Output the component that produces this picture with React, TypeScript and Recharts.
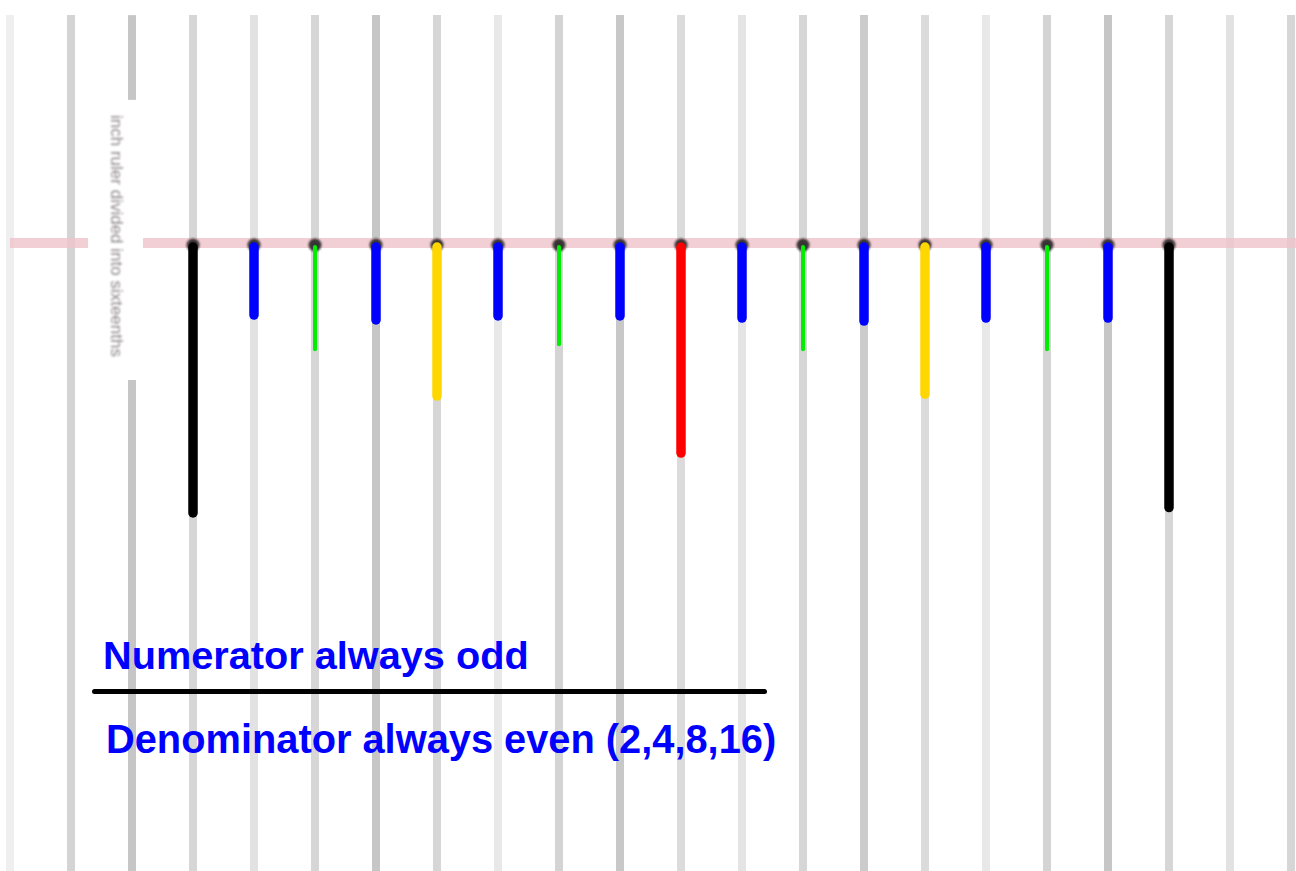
import React from "react";
import { ComposedChart, XAxis, YAxis, ReferenceLine, Scatter } from "recharts";

// ruler marks: position in sixteenths of an inch, denominator of the reduced fraction, mark depth
const tickPos = [0, 1, 2, 3, 4, 5, 6, 7, 8, 9, 10, 11, 12, 13, 14, 15, 16];
const tickDenom = [1, 16, 8, 16, 4, 16, 8, 16, 2, 16, 8, 16, 4, 16, 8, 16, 1];
const tickDepth = [100, 26.7, 39.4, 28.5, 56.7, 27, 37.5, 27, 77.8, 27.8, 39.4, 28.9, 56, 27.8, 39.4, 27.8, 98];

// faint background guide lines
const gridPos = [-3, -2, -1, 0, 1, 2, 3, 4, 5, 6, 7, 8, 9, 10, 11, 12, 13, 14, 15, 16, 17, 18];
const gridShade = [
  "#efefef", "#d4d4d4", "#c6c6c6", "#d6d6d6", "#e2e2e2", "#d6d6d6", "#c6c6c6", "#d6d6d6",
  "#e8e8e8", "#d4d4d4", "#c8c8c8", "#dbdbdb", "#e4e4e4", "#d6d6d6", "#cbcbcb", "#dbdbdb",
  "#e8e8e8", "#d4d4d4", "#c6c6c6", "#d6d6d6", "#e2e2e2", "#d6d6d6",
];

const numeratorText = "Numerator always odd";
const denominatorText = "Denominator always even (2,4,8,16)";
const sideText = "inch ruler divided into sixteenths";

const denomColor: Record<number, string> = {
  1: "#000000",
  2: "#ff0000",
  4: "#ffd700",
  8: "#00ee00",
  16: "#0000ff",
};

const W = 1296;
const H = 871;
const X_DOMAIN: [number, number] = [-3.164, 18.082];
const Y_DOMAIN: [number, number] = [-90, 232.6];

const dotData = tickPos.map((p) => ({ pos: p, base: 0 }));

const Blob = (props: any) => {
  const { cx, cy } = props;
  if (cx == null || cy == null) return null;
  return <circle cx={cx} cy={cy + 2} r={6.5} fill="#1a1a1a" opacity={0.85} style={{ filter: "blur(1.3px)" }} />;
};

export default function App() {
  return (
    <div
      style={{
        position: "absolute",
        left: 0,
        top: 0,
        width: W,
        height: H,
        background: "#fff",
        overflow: "hidden",
        fontFamily: "'Liberation Sans', Arial, sans-serif",
      }}
    >
      <ComposedChart width={W} height={H} data={dotData} margin={{ top: 0, right: 0, bottom: 0, left: 0 }}>
        <XAxis type="number" dataKey="pos" domain={X_DOMAIN} allowDataOverflow hide />
        <YAxis type="number" domain={Y_DOMAIN} reversed allowDataOverflow hide />

        {gridPos.map((p, i) =>
          p === -1 ? (
            <React.Fragment key={`g${p}`}>
              <ReferenceLine
                segment={[{ x: p, y: -84.4 }, { x: p, y: -53 }]}
                stroke={gridShade[i]}
                strokeWidth={8}
                zIndex={-100}
              />
              <ReferenceLine
                segment={[{ x: p, y: 50.7 }, { x: p, y: 232.6 }]}
                stroke={gridShade[i]}
                strokeWidth={8}
                zIndex={-100}
              />
            </React.Fragment>
          ) : (
            <ReferenceLine
              key={`g${p}`}
              segment={[{ x: p, y: -84.4 }, { x: p, y: 232.6 }]}
              stroke={gridShade[i]}
              strokeWidth={8}
              zIndex={-100}
            />
          )
        )}

        <ReferenceLine
          segment={[{ x: -3, y: 0 }, { x: -1.72, y: 0 }]}
          stroke="#eec3ca"
          strokeOpacity={0.8}
          strokeWidth={10}
          zIndex={-50}
        />
        <ReferenceLine
          segment={[{ x: -0.82, y: 0 }, { x: 18.082, y: 0 }]}
          stroke="#eec3ca"
          strokeOpacity={0.8}
          strokeWidth={10}
          zIndex={-50}
        />

        <Scatter dataKey="base" shape={<Blob />} isAnimationActive={false} />

        {tickPos.map((p, i) => (
          <ReferenceLine
            key={`t${p}`}
            segment={[{ x: p, y: 1.5 }, { x: p, y: tickDepth[i] }]}
            stroke={denomColor[tickDenom[i]]}
            strokeWidth={tickDenom[i] === 8 ? 4 : 9.5}
            strokeLinecap="round"
            zIndex={700}
          />
        ))}
      </ComposedChart>

      <div
        style={{
          position: "absolute",
          left: 116 - 125,
          top: 236 - 11,
          width: 250,
          height: 22,
          lineHeight: "22px",
          fontSize: 17,
          color: "#8e888a",
          textAlign: "center",
          transform: "rotate(90deg)",
          filter: "blur(1px)",
          whiteSpace: "nowrap",
        }}
      >
        {sideText}
      </div>

      <div
        style={{
          position: "absolute",
          left: 103,
          top: 635,
          fontSize: 39.7,
          lineHeight: "40px",
          fontWeight: "bold",
          color: "#0000ff",
          whiteSpace: "nowrap",
        }}
      >
        {numeratorText}
      </div>
      <div
        style={{
          position: "absolute",
          left: 92,
          top: 689,
          width: 675,
          height: 5,
          background: "#000",
          borderRadius: 3,
        }}
      />
      <div
        style={{
          position: "absolute",
          left: 106,
          top: 719,
          fontSize: 39.8,
          lineHeight: "40px",
          fontWeight: "bold",
          color: "#0000ff",
          whiteSpace: "nowrap",
        }}
      >
        {denominatorText}
      </div>
    </div>
  );
}
